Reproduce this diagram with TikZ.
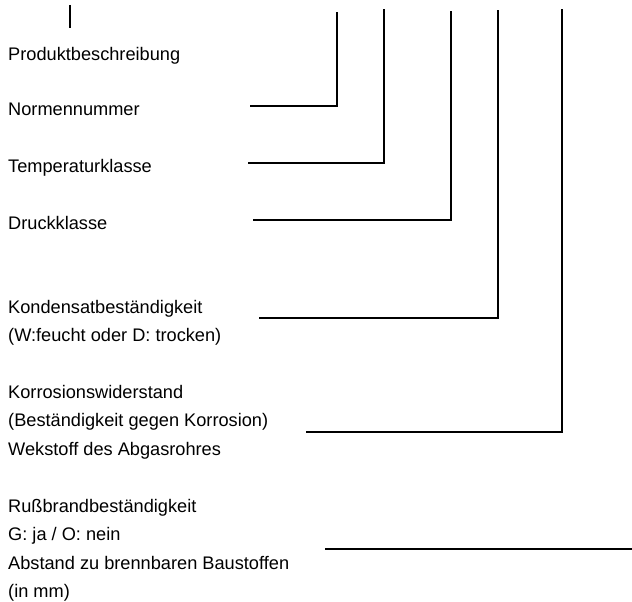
\documentclass[tikz,border=0pt]{standalone}
\usepackage{fontspec}
\setmainfont{Liberation Sans}
\tikzset{
  entry/.style={anchor=base west, inner sep=0pt, align=left, font=\fontsize{18.2}{28.2}\selectfont},
  leader/.style={line width=2.2pt},
}

\begin{document}
\begin{tikzpicture}[x=1pt,y=-1pt]
  \useasboundingbox (0,0) rectangle (632,602);

  % texts (base = last line)
  \node[entry] (produkt) at (8,60.7) {Produktbeschreibung};
  \node[entry] (norm) at (8,115.7) {Normennummer};
  \node[entry] (temp) at (8,172.3) {Temperaturklasse};
  \node[entry] (druck) at (8,229) {Druckklasse};
  \node[entry] (kond) at (8,341.7) {Kondensatbeständigkeit\\(W:feucht oder D: trocken)};
  \node[entry] (korr) at (8,455) {Korrosionswiderstand\\(Beständigkeit gegen Korrosion)\\Wekstoff des Abgasrohres};
  \node[entry] (russ) at (8,597.3) {Rußbrandbeständigkeit\\G: ja / O: nein\\Abstand zu brennbaren Baustoffen\\(in mm)};

  % leader lines
  \coordinate (produkt_n1) at (70,5);
  \coordinate (produkt_n2) at (70,28);
  \draw[leader] (produkt_n1) -- (produkt_n2);

  \coordinate (norm_n1) at (250,106);
  \coordinate (norm_n2) at (337,106);
  \coordinate (norm_n3) at (337,12);
  \draw[leader] (norm_n1) -- (norm_n2) -- (norm_n3);

  \coordinate (temp_n1) at (248,163);
  \coordinate (temp_n2) at (384,163);
  \coordinate (temp_n3) at (384,9);
  \draw[leader] (temp_n1) -- (temp_n2) -- (temp_n3);

  \coordinate (druck_n1) at (253,220);
  \coordinate (druck_n2) at (451,220);
  \coordinate (druck_n3) at (451,11);
  \draw[leader] (druck_n1) -- (druck_n2) -- (druck_n3);

  \coordinate (kond_n1) at (259,318);
  \coordinate (kond_n2) at (498,318);
  \coordinate (kond_n3) at (498,10);
  \draw[leader] (kond_n1) -- (kond_n2) -- (kond_n3);

  \coordinate (korr_n1) at (306,432);
  \coordinate (korr_n2) at (562,432);
  \coordinate (korr_n3) at (562,9);
  \draw[leader] (korr_n1) -- (korr_n2) -- (korr_n3);

  \coordinate (russ_n1) at (325,549);
  \coordinate (russ_n2) at (632,549);
  \draw[leader] (russ_n1) -- (russ_n2);

\end{tikzpicture}
\end{document}
